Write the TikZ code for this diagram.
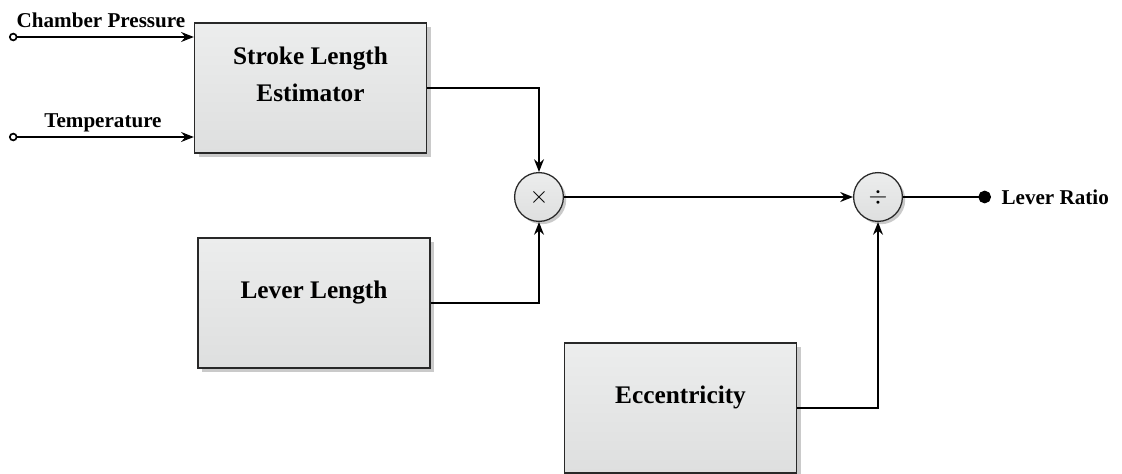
\documentclass[tikz,border=0pt]{standalone}
\usepackage{fontspec}
\setmainfont{Liberation Serif}
\usepackage{tikz}
\usetikzlibrary{arrows.meta,positioning,shadows}
\definecolor{cBoxTop}{RGB}{236,237,237}
\definecolor{cBoxBot}{RGB}{222,223,223}
\definecolor{cEdge}{RGB}{40,40,40}
\tikzset{
  blockbox/.style={rectangle,draw=cEdge,line width=0.9pt,
                   top color=cBoxTop,bottom color=cBoxBot,
                   minimum width=5.8cm,minimum height=3.25cm,
                   drop shadow={shadow xshift=3pt,shadow yshift=-3pt,
                                opacity=0.35,fill=black!60}},
  blocktext/.style={font=\bfseries\fontsize{18}{26}\selectfont,align=center},
  sumnode/.style={circle,draw=cEdge,line width=0.9pt,
                  top color=cBoxTop,bottom color=cBoxBot,
                  minimum size=1.22cm,inner sep=0pt,font=\LARGE,
                  drop shadow={shadow xshift=2pt,shadow yshift=-2pt,
                               opacity=0.35,fill=black!60}},
  sigtext/.style={font=\bfseries\fontsize{15}{18}\selectfont},
  arr/.style={-{Stealth[length=9pt,width=7pt]},line width=1.4pt},
  inarr/.style={{Circle[open,length=6pt,line width=1.2pt]}-{Stealth[length=9pt,width=7pt]},line width=1.4pt},
  outarr/.style={-{Circle[length=9pt]},line width=1.4pt}
}
\begin{document}
\begin{tikzpicture}[x=0.025cm,y=-0.025cm]
  \useasboundingbox (0,0) rectangle (1122,473);
  \clip (0,0) rectangle (1122,473);

  % blocks
  \node[blockbox] (sle) at (310.5,88) {};
  \node[blocktext] (sletext) at (310.5,74.5) {Stroke Length\\Estimator};
  \node[blockbox] (lev) at (314,303) {};
  \node[blocktext] (levtext) at (314,293) {Lever Length};
  \node[blockbox] (ecc) at (680.5,408) {};
  \node[blocktext] (ecctext) at (680.5,397) {Eccentricity};

  % operators
  \node[sumnode] (mul) at (539,197) {$\times$};
  \node[sumnode] (div) at (878,197) {$\div$};

  % inputs
  \coordinate (cpin) at (9,37);
  \coordinate (tpin) at (9,137);
  \draw[inarr] (cpin) -- (sle.west |- cpin);
  \draw[inarr] (tpin) -- (sle.west |- tpin);
  \node[sigtext] (cplabel) at (101,20) {Chamber Pressure};
  \node[sigtext] (tplabel) at (103,123) {Temperature};

  % signal flow
  \draw[arr] (sle.east) -| (mul.north);
  \draw[arr] (lev.east) -| (mul.south);
  \draw[arr] (mul) -- (div);
  \draw[arr] (ecc.east) -| (div.south);

  % output
  \coordinate (lrout) at (991,197);
  \draw[outarr] (div) -- (lrout);
  \node[sigtext,right=4pt of lrout] (lrlabel) {Lever Ratio};

\end{tikzpicture}
\end{document}
